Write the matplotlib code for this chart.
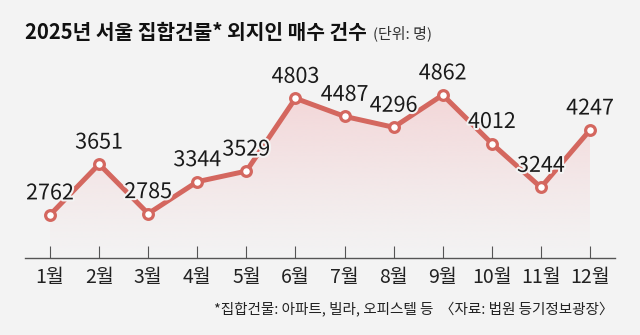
import numpy as np
import matplotlib.pyplot as plt
from matplotlib.patches import Polygon
from matplotlib.colors import to_rgb
import matplotlib.patheffects as pe

# 2025년 서울 집합건물 외지인 매수 건수 (월별)
months = ["1월", "2월", "3월", "4월", "5월", "6월",
          "7월", "8월", "9월", "10월", "11월", "12월"]
counts = [2762, 3651, 2785, 3344, 3529, 4803, 4487, 4296, 4862, 4012, 3244, 4247]

bg = "#f3f3f3"
red = "#d4675f"
pink = "#f3bfc2"
num_font = ["Liberation Sans Narrow", "Noto Sans CJK KR", "DejaVu Sans"]
kr_font = ["Noto Sans CJK KR", "DejaVu Sans"]

fig = plt.figure(figsize=(6.4, 3.35), dpi=100, facecolor=bg)
ax = fig.add_axes([0.0398, 0.2284, 0.9204, 0.5885])
ax.set_facecolor(bg)

x = np.arange(1, len(counts) + 1)
y0 = 2000

# 선 아래 그라데이션 영역
verts = [(x[0], y0)] + list(zip(x, counts)) + [(x[-1], y0)]
poly = Polygon(verts, closed=True, facecolor="none", edgecolor="none")
ax.add_patch(poly)
grad = np.linspace(0, 1, 256) ** 1.2
rgba = np.zeros((256, 1, 4))
rgba[..., :3] = to_rgb(pink)
rgba[..., 3] = 0.55 * grad[:, None]
im = ax.imshow(rgba, extent=[x[0], x[-1], y0, max(counts)], origin="lower",
               aspect="auto", zorder=1, interpolation="bilinear")
im.set_clip_path(poly)

ax.plot(x, counts, color=red, lw=3.6, zorder=3, solid_capstyle="round")
ax.plot(x, counts, "o", ms=7, mfc="white", mec=red, mew=2.3, zorder=4)

for xi, v in zip(x, counts):
    ax.annotate(f"{v}", (xi, v), xytext=(0, 15.5), textcoords="offset points",
                ha="center", va="center", fontsize=15.5, color="#1a1a1a",
                family=num_font, zorder=5,
                path_effects=[pe.withStroke(linewidth=3, foreground=bg)])

ax.set_xlim(0.5, 12.5)
ax.set_ylim(y0, 5450)
for s in ["top", "right", "left"]:
    ax.spines[s].set_visible(False)
ax.spines["bottom"].set_color("#555555")
ax.spines["bottom"].set_linewidth(1.0)
ax.set_yticks([])
ax.set_xticks(x)
ax.set_xticklabels(months, family=num_font, fontsize=14, color="#222222")
ax.tick_params(axis="x", direction="in", length=8.5, width=0.8,
               color="#555555", pad=6)

fig.text(0.039, 0.902, "2025년 서울 집합건물* 외지인 매수 건수", family=kr_font,
         fontsize=14.6, fontweight="black", color="#111111", ha="left", va="center")
fig.text(0.583, 0.900, "(단위: 명)", family=kr_font, fontsize=10.8,
         color="#333333", ha="left", va="center")
fig.text(0.958, 0.075, "*집합건물: 아파트, 빌라, 오피스텔 등  〈자료: 법원 등기정보광장〉",
         family=kr_font, fontsize=10.5, color="#222222", ha="right", va="center")

fig.savefig("out.png", dpi=100, facecolor=bg)
